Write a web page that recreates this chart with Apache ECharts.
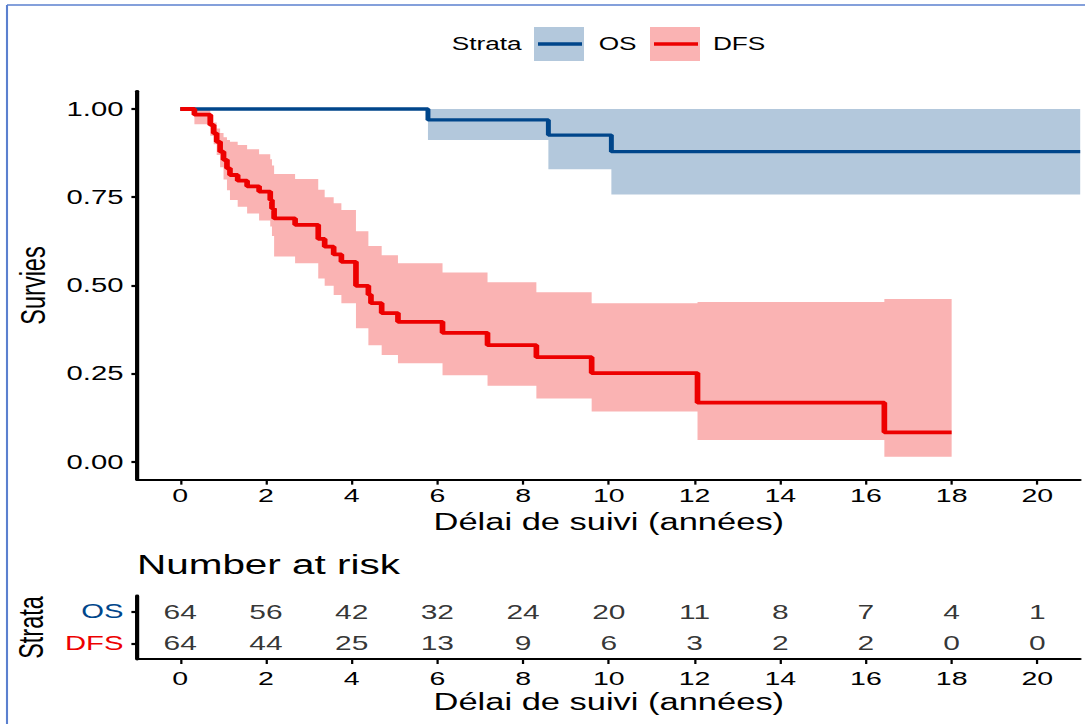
<!DOCTYPE html>
<html>
<head>
<meta charset="utf-8">
<script src="https://cdn.jsdelivr.net/npm/echarts@6/dist/echarts.min.js"></script>
<style>
html,body{margin:0;padding:0;background:#fff;overflow:hidden;}
#wrap{width:1085px;height:724px;overflow:hidden;position:relative;background:#fff;}
#chart{width:724px;height:724px;transform:scaleX(1.49862);transform-origin:0 0;}
</style>
</head>
<body>
<div id="wrap"><div id="chart"></div></div>
<script>
// ---------- data ----------
const strata = ['OS', 'DFS'];
const years = [0, 2, 4, 6, 8, 10, 12, 14, 16, 18, 20];
const survTicks = [0, 0.25, 0.5, 0.75, 1];

// OS (overall survival) Kaplan-Meier steps
const osTime  = [0, 5.78, 8.59, 10.06, 21];
const osSurv  = [1, 0.969, 0.926, 0.879, 0.879];
const osUpper = [1, 1, 1, 1, 1];
const osLower = [1, 0.912, 0.829, 0.758, 0.758];

// DFS (disease-free survival) Kaplan-Meier steps
const dfsTime  = [0, 0.33, 0.70, 0.78, 0.85, 0.93, 1.01, 1.09, 1.16, 1.34, 1.56, 1.84, 2.10, 2.14, 2.19, 2.68, 3.22, 3.37, 3.58, 3.76, 4.10, 4.39, 4.45, 4.70, 5.08, 6.12, 7.17, 8.31, 9.60, 12.07, 16.43, 18.0];
const dfsSurv  = [1, 0.984, 0.955, 0.931, 0.907, 0.879, 0.856, 0.832, 0.813, 0.797, 0.781, 0.766, 0.742, 0.718, 0.690, 0.672, 0.632, 0.610, 0.588, 0.567, 0.499, 0.474, 0.450, 0.422, 0.397, 0.366, 0.331, 0.297, 0.252, 0.168, 0.084, 0.084];
const dfsUpper = [1, 1.000, 0.983, 0.962, 0.945, 0.932, 0.920, 0.912, 0.907, 0.898, 0.886, 0.872, 0.858, 0.840, 0.816, 0.802, 0.771, 0.750, 0.733, 0.714, 0.654, 0.612, 0.612, 0.586, 0.563, 0.537, 0.509, 0.481, 0.450, 0.453, 0.462, 0.462];
const dfsLower = [1, 0.957, 0.924, 0.900, 0.870, 0.835, 0.800, 0.770, 0.742, 0.723, 0.704, 0.684, 0.667, 0.640, 0.582, 0.563, 0.520, 0.499, 0.473, 0.450, 0.379, 0.331, 0.331, 0.303, 0.280, 0.246, 0.216, 0.180, 0.143, 0.062, 0.015, 0.015];

// Number at risk
const riskOS  = [64, 56, 42, 32, 24, 20, 11, 8, 7, 4, 1];
const riskDFS = [64, 44, 25, 13, 9, 6, 3, 2, 2, 0, 0];

// ---------- layout helpers ----------
const STRETCH = 1085 / 724;              // picture is horizontally stretched
const px = v => v / STRETCH;             // reference x-pixel -> internal pixel
const FONT = "'Liberation Sans', Arial, Helvetica, sans-serif";
const C_OS = '#00468B', C_DFS = '#ED0000';
const F_OS = '#B3C8DC', F_DFS = '#FAB3B3';

const zip = (a, b) => a.map((v, i) => [v, b[i]]);

// stepped confidence band drawn as one polygon through the axis scales
function bandSeries(name, time, lower, upper, fill) {
  const rows = time.map((t, i) => [t, lower[i], upper[i]]);
  return {
    name: name + ' CI', type: 'custom', xAxisIndex: 0, yAxisIndex: 0, data: rows,
    encode: { x: 0, y: [1, 2] }, silent: true, z: 1, clip: true,
    renderItem: function (params, api) {
      if (params.dataIndex !== 0) return null;
      const n = rows.length;
      const pts = [];
      for (let i = 0; i < n - 1; i++) {
        pts.push(api.coord([rows[i][0], rows[i][2]]));
        pts.push(api.coord([rows[i + 1][0], rows[i][2]]));
      }
      for (let i = n - 2; i >= 0; i--) {
        pts.push(api.coord([rows[i + 1][0], rows[i][1]]));
        pts.push(api.coord([rows[i][0], rows[i][1]]));
      }
      return { type: 'polygon', shape: { points: pts }, style: { fill: fill, stroke: null } };
    }
  };
}

const axisTxt = { color: '#000', fontFamily: FONT };
const riskData = [];
years.forEach((t, i) => {
  riskData.push([t, 'OS', riskOS[i]]);
  riskData.push([t, 'DFS', riskDFS[i]]);
});

const gridLeft = px(137.4), gridRight = 724 - px(1080.2);

const option = {
  animation: false,
  backgroundColor: '#fff',
  textStyle: { fontFamily: FONT },
  grid: [
    { left: gridLeft, right: gridRight, top: 91.35, height: 388.3, outerBoundsMode: 'none', containLabel: false },
    { left: gridLeft, right: gridRight, top: 596, height: 63, outerBoundsMode: 'none', containLabel: false }
  ],
  xAxis: [
    { type: 'value', gridIndex: 0, min: -1, max: 21,
      axisLine: { show: true, onZero: false, lineStyle: { color: '#000', width: 2 } },
      axisTick: { show: true, customValues: years, length: 5, lineStyle: { color: '#000', width: 1.5 } },
      axisLabel: { show: true, customValues: years, fontSize: 19, margin: 6.5, ...axisTxt },
      splitLine: { show: false },
      name: 'Délai de suivi (années)', nameLocation: 'middle', nameGap: 26,
      nameTextStyle: { fontSize: 23, ...axisTxt } },
    { type: 'value', gridIndex: 1, min: -1, max: 21,
      axisLine: { show: true, onZero: false, lineStyle: { color: '#000', width: 2 } },
      axisTick: { show: true, customValues: years, length: 5, lineStyle: { color: '#000', width: 1.5 } },
      axisLabel: { show: true, customValues: years, fontSize: 19, margin: 9.5, ...axisTxt },
      splitLine: { show: false },
      name: 'Délai de suivi (années)', nameLocation: 'middle', nameGap: 31,
      nameTextStyle: { fontSize: 23, ...axisTxt } }
  ],
  yAxis: [
    { type: 'value', gridIndex: 0, min: -0.05, max: 1.05,
      axisLine: { show: true, onZero: false, lineStyle: { color: '#000', width: 2.8 } },
      axisTick: { show: true, customValues: survTicks, length: px(6), lineStyle: { color: '#000', width: 2.2 } },
      axisLabel: { show: true, customValues: survTicks, formatter: v => Number(v).toFixed(2), fontSize: 19.5, margin: px(14), ...axisTxt },
      splitLine: { show: false },
      name: 'Survies', nameLocation: 'middle', nameRotate: 90, nameGap: 52,
      nameTextStyle: { fontSize: 23.5, ...axisTxt } },
    { type: 'category', gridIndex: 1, data: strata.slice().reverse(),
      axisLine: { show: true, onZero: false, lineStyle: { color: '#000', width: 2.8 } },
      axisTick: { show: true, alignWithLabel: true, length: px(6), lineStyle: { color: '#000', width: 2.2 } },
      axisLabel: { show: true, fontSize: 19.5, margin: px(14), fontFamily: FONT,
        color: (v) => (v === 'OS' ? C_OS : C_DFS) },
      splitLine: { show: false },
      name: 'Strata', nameLocation: 'middle', nameRotate: 90, nameGap: 52,
      nameTextStyle: { fontSize: 23.5, ...axisTxt } }
  ],
  title: { text: 'Number at risk', left: px(137), top: 551, padding: 0,
    textStyle: { fontSize: 27, fontWeight: 'normal', color: '#000', fontFamily: FONT } },
  series: [
    bandSeries('OS', osTime, osLower, osUpper, F_OS),
    bandSeries('DFS', dfsTime, dfsLower, dfsUpper, F_DFS),
    { name: 'OS', type: 'line', xAxisIndex: 0, yAxisIndex: 0, step: 'end', data: zip(osTime, osSurv),
      symbol: 'none', lineStyle: { color: C_OS, width: 3.3 }, z: 3, silent: true },
    { name: 'DFS', type: 'line', xAxisIndex: 0, yAxisIndex: 0, step: 'end', data: zip(dfsTime, dfsSurv),
      symbol: 'none', lineStyle: { color: C_DFS, width: 3.8 }, z: 4, silent: true },
    { name: 'risk', type: 'scatter', xAxisIndex: 1, yAxisIndex: 1, data: riskData,
      symbolSize: 1, itemStyle: { color: 'rgba(0,0,0,0)' }, silent: true,
      label: { show: true, position: 'inside', formatter: p => String(p.value[2]),
        fontSize: 20, color: '#000', textBorderWidth: 0, textShadowBlur: 0, fontFamily: FONT } }
  ],
  graphic: [
    // picture frame (left and top edges)
    { type: 'line', shape: { x1: px(7), y1: 5, x2: 724, y2: 5 }, style: { stroke: '#5B80CF', lineWidth: 1.7 }, silent: true },
    { type: 'line', shape: { x1: px(7), y1: 5, x2: px(7), y2: 724 }, style: { stroke: '#5B80CF', lineWidth: 1.4 }, silent: true },
    // legend
    { type: 'text', x: px(451.7), y: 44, style: { text: 'Strata', fontSize: 17.5, fill: '#000', fontFamily: FONT, textVerticalAlign: 'middle' }, silent: true },
    { type: 'rect', shape: { x: px(534), y: 27, width: px(50), height: 34 }, style: { fill: F_OS }, silent: true },
    { type: 'line', shape: { x1: px(538), y1: 44, x2: px(582), y2: 44 }, style: { stroke: C_OS, lineWidth: 3.5 }, silent: true },
    { type: 'text', x: px(598.7), y: 44, style: { text: strata[0], fontSize: 17.5, fill: '#000', fontFamily: FONT, textVerticalAlign: 'middle' }, silent: true },
    { type: 'rect', shape: { x: px(650), y: 27, width: px(50), height: 34 }, style: { fill: F_DFS }, silent: true },
    { type: 'line', shape: { x1: px(654), y1: 44, x2: px(698), y2: 44 }, style: { stroke: C_DFS, lineWidth: 3.5 }, silent: true },
    { type: 'text', x: px(712.9), y: 44, style: { text: strata[1], fontSize: 17.5, fill: '#000', fontFamily: FONT, textVerticalAlign: 'middle' }, silent: true }
  ]
};

const chart = echarts.init(document.getElementById('chart'), null, { renderer: 'svg', width: 724, height: 724 });
chart.setOption(option);
</script>
</body>
</html>
